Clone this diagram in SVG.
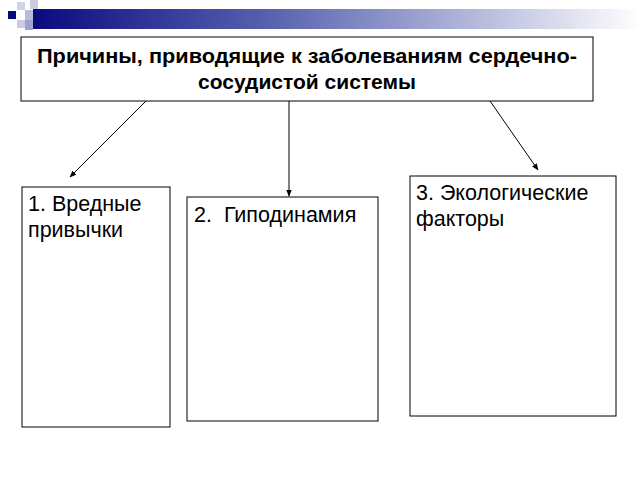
<svg xmlns="http://www.w3.org/2000/svg" width="640" height="480" viewBox="0 0 640 480">
<defs>
<linearGradient id="g" x1="0" x2="1" y1="0" y2="0">
<stop offset="0" stop-color="#0a0a80"/><stop offset="0.4" stop-color="#5a64b0"/><stop offset="1" stop-color="#ffffff"/>
</linearGradient>
<marker id="a" viewBox="0 0 10 10" refX="9" refY="5" markerWidth="7" markerHeight="7" orient="auto"><path d="M0,1 L10,5 L0,9 z" fill="#000"/></marker>
<style>.b{fill:#fff;stroke:#000;stroke-width:1}.t{font-family:"Liberation Sans",Arial,sans-serif;font-size:21.5px;fill:#000}.h{font-weight:bold;font-size:21px}.c{stroke:#000;stroke-width:1;fill:none;marker-end:url(#a)}</style>
</defs>
<rect width="640" height="480" fill="#fff"/>
<g id="decor">
<rect x="33" y="9" width="607" height="20" fill="url(#g)"/>
<rect x="8" y="11" width="8" height="8" fill="#0a0a80"/>
<rect x="17" y="2" width="8" height="8" fill="#d0d2e6"/>
<rect x="25" y="10" width="8" height="10" fill="#b8bcdc"/>
<rect x="30" y="0" width="8" height="9" fill="#c8cbe2"/>
<rect x="17" y="20" width="8" height="8" fill="#c8cbe2"/>
<rect x="25" y="20" width="8" height="10" fill="#9ea3d0"/>
</g>
<g id="title"><rect class="b" x="21" y="37" width="572" height="64"/>
<text class="t h" text-anchor="middle"><tspan x="307" y="63" textLength="540" lengthAdjust="spacingAndGlyphs">Причины, приводящие к заболеваниям сердечно-</tspan><tspan x="307" y="89">сосудистой системы</tspan></text></g>
<g id="n1"><rect class="b" x="22" y="187" width="148" height="240"/>
<text class="t"><tspan x="28" y="211">1. Вредные</tspan><tspan x="28" y="237">привычки</tspan></text></g>
<g id="n2"><rect class="b" x="187" y="197" width="191" height="224"/>
<text class="t" x="194" y="222" xml:space="preserve">2.  Гиподинамия</text></g>
<g id="n3"><rect class="b" x="410" y="176" width="206" height="240"/>
<text class="t"><tspan x="416" y="200">3. Экологические</tspan><tspan x="416" y="226">факторы</tspan></text></g>
<g id="connectors">
<line class="c" x1="146" y1="101" x2="70" y2="177"/>
<line class="c" x1="289" y1="101" x2="289" y2="196"/>
<line class="c" x1="490" y1="101" x2="538" y2="170"/>
</g>
</svg>
